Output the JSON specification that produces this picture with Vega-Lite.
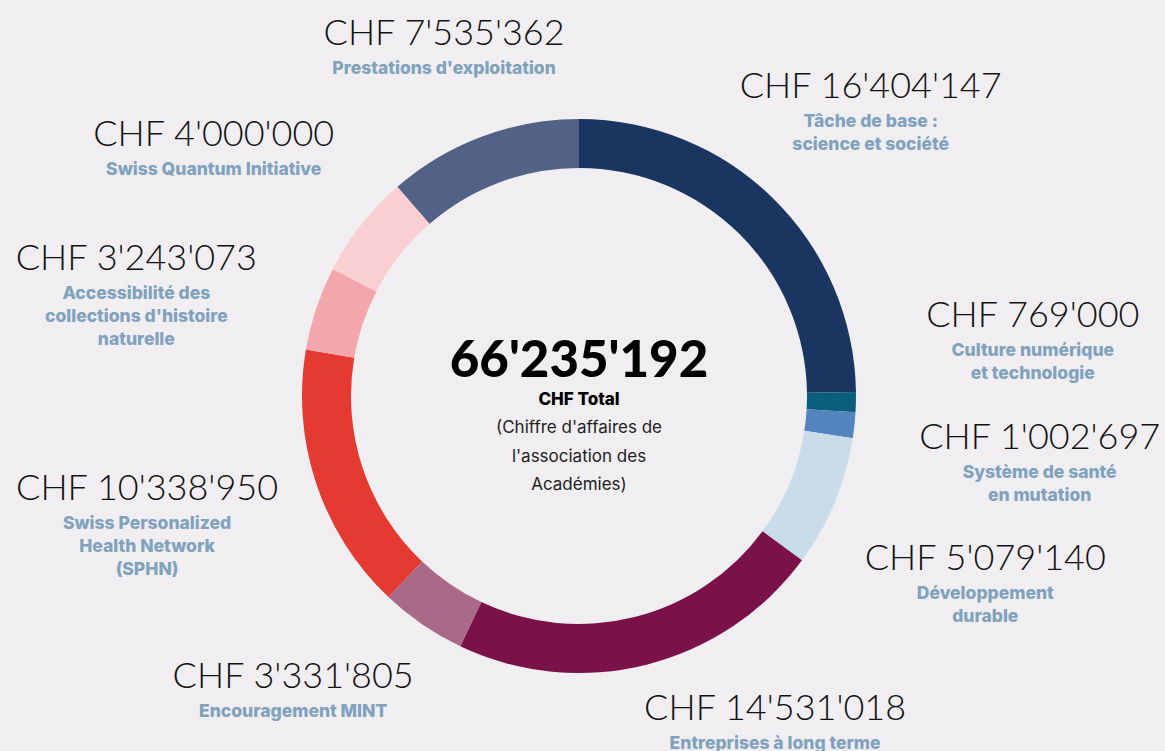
{
  "$schema": "https://vega.github.io/schema/vega-lite/v6.json",
  "width": 1158,
  "height": 792,
  "padding": {"left": 0, "top": 0, "right": 7, "bottom": 0},
  "autosize": {"type": "none"},
  "background": "#f0eef1",
  "config": {
    "view": {"stroke": null},
    "locale": {"number": {"decimal": ".", "thousands": "'", "grouping": [3], "currency": ["CHF ", ""]}}
  },
  "datasets": {
    "segments": [
      {"rank": 1, "category": "Tâche de base : science et société", "amount": 16404147, "sub": "Tâche de base :\nscience et société"},
      {"rank": 2, "category": "Culture numérique et technologie", "amount": 769000, "sub": "Culture numérique\net technologie"},
      {"rank": 3, "category": "Système de santé en mutation", "amount": 1002697, "sub": "Système de santé\nen mutation"},
      {"rank": 4, "category": "Développement durable", "amount": 5079140, "sub": "Développement\ndurable"},
      {"rank": 5, "category": "Entreprises à long terme", "amount": 14531018, "sub": "Entreprises à long terme"},
      {"rank": 6, "category": "Encouragement MINT", "amount": 3331805, "sub": "Encouragement MINT"},
      {"rank": 7, "category": "Swiss Personalized Health Network (SPHN)", "amount": 10338950, "sub": "Swiss Personalized\nHealth Network\n(SPHN)"},
      {"rank": 8, "category": "Accessibilité des collections d'histoire naturelle", "amount": 3243073, "sub": "Accessibilité des\ncollections d'histoire\nnaturelle"},
      {"rank": 9, "category": "Swiss Quantum Initiative", "amount": 4000000, "sub": "Swiss Quantum Initiative"},
      {"rank": 10, "category": "Prestations d'exploitation", "amount": 7535362, "sub": "Prestations d'exploitation"}
    ],
    "center": [
      {"line1": "CHF Total", "note": "(Chiffre d'affaires de\nl'association des\nAcadémies)"}
    ]
  },
  "layer": [
    {
      "data": {"name": "segments"},
      "mark": {"type": "arc", "innerRadius": 228, "outerRadius": 277},
      "encoding": {
        "theta": {"field": "amount", "type": "quantitative", "stack": true},
        "order": {"field": "rank", "type": "quantitative"},
        "color": {
          "field": "category",
          "type": "nominal",
          "legend": null,
          "scale": {
            "domain": ["Tâche de base : science et société", "Culture numérique et technologie", "Système de santé en mutation", "Développement durable", "Entreprises à long terme", "Encouragement MINT", "Swiss Personalized Health Network (SPHN)", "Accessibilité des collections d'histoire naturelle", "Swiss Quantum Initiative", "Prestations d'exploitation"],
            "range": ["#193560", "#0a5f7c", "#5384bd", "#c9dcea", "#7a1249", "#a96a89", "#e53a31", "#f3a6ab", "#f9cfd1", "#526186"]
          }
        }
      }
    },
    {
      "data": {"name": "segments"},
      "mark": {
        "type": "text",
        "font": "Lato",
        "fontWeight": 300,
        "fontSize": 36,
        "color": "#111111",
        "align": "center",
        "baseline": "alphabetic",
        "radius": {"expr": "470*365/sqrt(pow(365*sin(scale('theta',(datum.amount_start+datum.amount_end)/2)),2)+pow(470*cos(scale('theta',(datum.amount_start+datum.amount_end)/2)),2))"},
        "dx": {"expr": "[0,6,-16,-5,-8,106,-65,0,-11,-35,-4][datum.rank]"},
        "dy": {"expr": "-8+[0,0,-71,12,10,-26,-22,-32,26,18,8][datum.rank]"}
      },
      "encoding": {
        "theta": {"field": "amount", "type": "quantitative", "stack": true},
        "order": {"field": "rank", "type": "quantitative"},
        "text": {"field": "amount", "type": "quantitative", "format": "$,.0f"}
      }
    },
    {
      "data": {"name": "segments"},
      "mark": {
        "type": "text",
        "font": "Inter",
        "fontWeight": 800,
        "fontSize": 17.5,
        "color": "#80a2bd",
        "align": "center",
        "baseline": "top",
        "lineBreak": "\n",
        "lineHeight": 23,
        "radius": {"expr": "470*365/sqrt(pow(365*sin(scale('theta',(datum.amount_start+datum.amount_end)/2)),2)+pow(470*cos(scale('theta',(datum.amount_start+datum.amount_end)/2)),2))"},
        "dx": {"expr": "[0,6,-16,-5,-8,106,-65,0,-11,-35,-4][datum.rank]"},
        "dy": {"expr": "7+[0,0,-71,12,10,-26,-22,-32,26,18,8][datum.rank]"}
      },
      "encoding": {
        "theta": {"field": "amount", "type": "quantitative", "stack": true},
        "order": {"field": "rank", "type": "quantitative"},
        "text": {"field": "sub", "type": "nominal"}
      }
    },
    {
      "data": {"name": "segments"},
      "transform": [{"aggregate": [{"op": "sum", "field": "amount", "as": "total"}]}],
      "mark": {"type": "text", "font": "Lato", "fontWeight": 900, "fontSize": 51, "color": "#000000", "align": "center", "baseline": "alphabetic", "dy": -19},
      "encoding": {"text": {"field": "total", "type": "quantitative", "format": ",.0f"}}
    },
    {
      "data": {"name": "center"},
      "mark": {"type": "text", "font": "Inter", "fontWeight": 800, "fontSize": 17, "color": "#000000", "align": "center", "baseline": "alphabetic", "dy": 9},
      "encoding": {"text": {"field": "line1", "type": "nominal"}}
    },
    {
      "data": {"name": "center"},
      "mark": {"type": "text", "font": "Inter", "fontSize": 17, "color": "#222222", "align": "center", "baseline": "alphabetic", "dy": 37, "lineBreak": "\n", "lineHeight": 28.5},
      "encoding": {"text": {"field": "note", "type": "nominal"}}
    }
  ]
}
